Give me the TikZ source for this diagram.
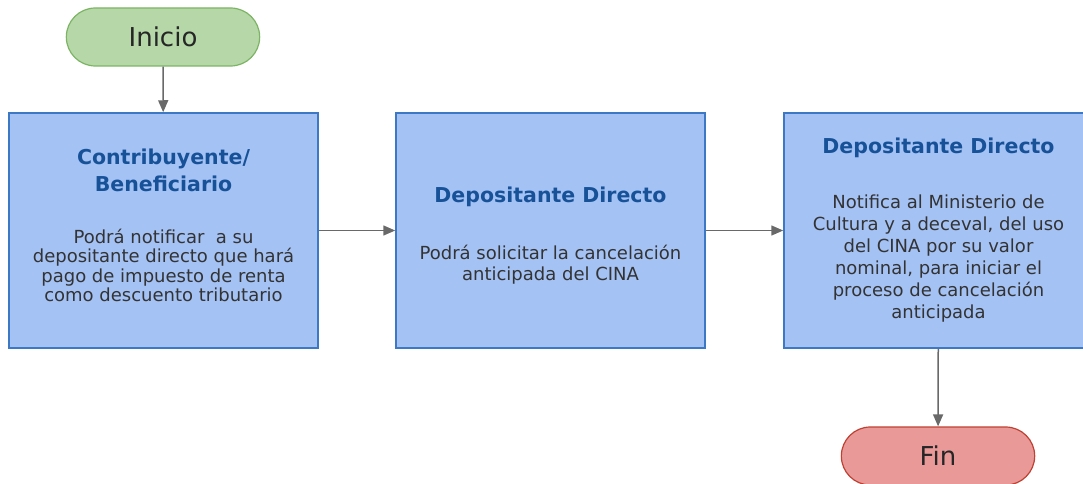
\documentclass[tikz,border=0pt]{standalone}
\usepackage{fontspec}
\setmainfont{DejaVu Sans}
\usetikzlibrary{arrows.meta}
\usetikzlibrary{shapes.misc}
\definecolor{boxblue}{RGB}{164,194,244}
\definecolor{boxedge}{RGB}{61,120,196}
\definecolor{titleblue}{RGB}{23,82,153}
\definecolor{textgray}{RGB}{51,51,51}
\definecolor{startgreen}{RGB}{182,215,168}
\definecolor{startedge}{RGB}{125,180,100}
\definecolor{endred}{RGB}{234,153,153}
\definecolor{endedge}{RGB}{190,65,50}
\definecolor{arrowgray}{RGB}{105,105,105}
\newcommand{\steptitle}[1]{\textcolor{titleblue}{\fontsize{20.5}{24}\selectfont\bfseries #1}}

\begin{document}
\begin{tikzpicture}[x=1pt,y=-1pt]
      \useasboundingbox (0,0) rectangle (1083,484);
      \begin{scope}[every node/.style={rounded rectangle, line width=1.2pt, minimum width=200pt,
          minimum height=58pt, font=\fontsize{26}{30}\selectfont, text=black!85}]
        \node[fill=startgreen, draw=startedge] (inicio) at (163,37) {Inicio};
        \node[fill=endred, draw=endedge] (fin) at (938,456) {Fin};
      \end{scope}
      \begin{scope}[every node/.style={rectangle, fill=boxblue, draw=boxedge, line width=1.5pt,
          minimum width=309pt, minimum height=235pt, inner sep=0pt, align=center,
          text=textgray, font=\fontsize{18}{21}\selectfont}]
        \node (contrib) at (163.5,230.5) {\steptitle{Contribuyente/}\\[6pt]
          \steptitle{Beneficiario}\\[31pt]
          Podrá notificar\ \ a su\\[-1.5pt] depositante directo que hará\\[-1.5pt]
          pago de impuesto de renta\\[-1.5pt] como descuento tributario\rule[-11pt]{0pt}{1pt}};
        \node (depo1) at (550.5,230.5) {\rule{0pt}{25pt}\steptitle{Depositante Directo}\\[36pt]
          Podrá solicitar la cancelación\\ anticipada del CINA};
        \node (depo2) at (938.5,230.5) {\steptitle{Depositante Directo}\\[34pt]
          Notifica al Ministerio de\\[1pt] Cultura y a deceval, del uso\\[1pt]
          del CINA por su valor\\[1pt] nominal, para iniciar el\\[1pt]
          proceso de cancelación\\[1pt] anticipada};
      \end{scope}
      \begin{scope}[every edge/.style={draw=arrowgray, line width=1.5pt,
          -{Triangle[length=12pt,width=10pt]}}]
        \path (inicio) edge (contrib);
        \path (contrib) edge (depo1);
        \path (depo1) edge (depo2);
        \path (depo2) edge (fin);
      \end{scope}
    \end{tikzpicture}
\end{document}
